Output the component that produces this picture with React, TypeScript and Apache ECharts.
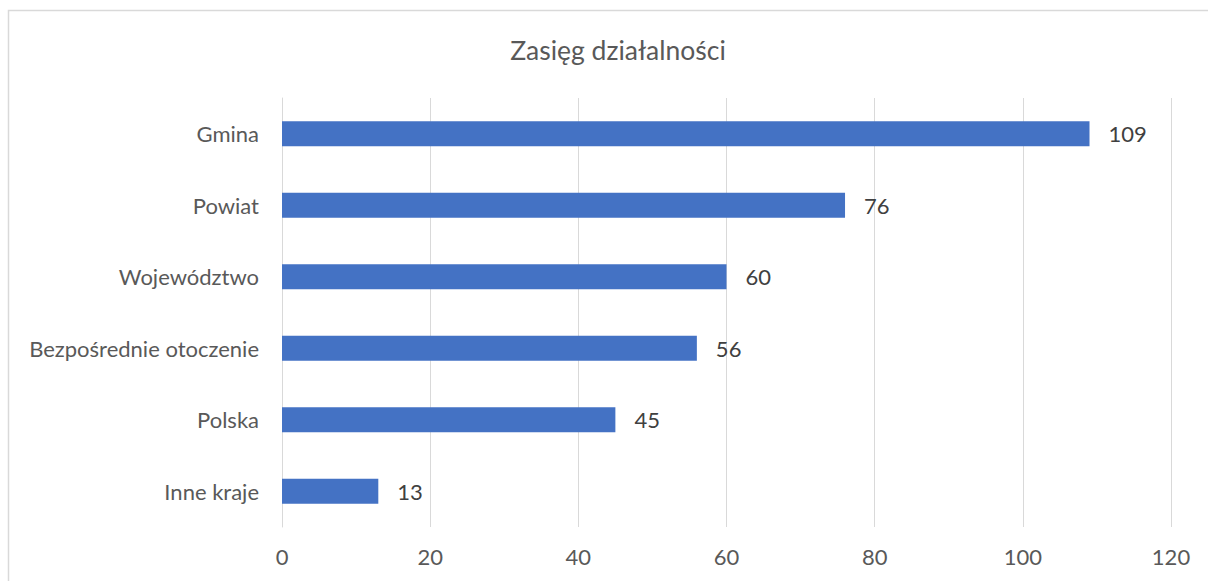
import React, { useEffect, useRef } from "react";
import * as echarts from "echarts";

const categories = ["Inne kraje", "Polska", "Bezpośrednie otoczenie", "Województwo", "Powiat", "Gmina"];
const values = [13, 45, 56, 60, 76, 109];
const titleText = "Zasięg działalności";

export default function App() {
  const ref = useRef<HTMLDivElement>(null);
  useEffect(() => {
    if (!ref.current) return;
    const chart = echarts.init(ref.current, undefined, { renderer: "svg" });
    const font = "'Gill Sans', Lato, 'Open Sans', sans-serif";
    chart.setOption({
      animation: false,
      backgroundColor: "#ffffff",
      textStyle: { fontFamily: font },
      title: {
        text: titleText,
        left: 613,
        textAlign: "center",
        top: 31,
        textStyle: { fontFamily: font, fontSize: 26.5, fontWeight: "normal", color: "#595959" },
      },
      graphic: [
        {
          type: "rect",
          shape: { x: 8.5, y: 10.5, width: 1400, height: 800 },
          style: { fill: "none", stroke: "#d9d9d9", lineWidth: 1.5 },
          silent: true,
        },
      ],
      grid: { left: 282, right: 37, top: 98, bottom: 54 },
      xAxis: {
        type: "value",
        min: 0,
        max: 120,
        interval: 20,
        axisLine: { show: false },
        axisTick: { show: false },
        splitLine: { lineStyle: { color: "#d9d9d9", width: 1 } },
        axisLabel: { fontFamily: font, fontSize: 22, color: "#595959", margin: 18 },
      },
      yAxis: {
        type: "category",
        data: categories,
        axisLine: { show: true, lineStyle: { color: "#d9d9d9", width: 1 } },
        axisTick: { show: false },
        axisLabel: { fontFamily: font, fontSize: 22, color: "#595959", margin: 23 },
      },
      series: [
        {
          type: "bar",
          data: values,
          barWidth: 25,
          itemStyle: { color: "#4472c4" },
          label: {
            show: true,
            position: "right",
            distance: 19,
            fontFamily: font,
            fontSize: 22,
            color: "#404040",
          },
        },
      ],
    });
    return () => chart.dispose();
  }, []);
  return (
    <div
      ref={ref}
      style={{ position: "fixed", left: 0, top: 0, width: 1208, height: 581 }}
    />
  );
}
